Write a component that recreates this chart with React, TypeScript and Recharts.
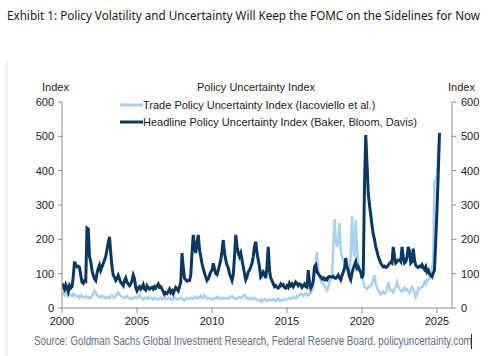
import { Line, LineChart, XAxis, YAxis } from "recharts";

const START_YEAR = 2000;
const YEAR_TICKS = [2000, 2005, 2010, 2015, 2020, 2025];
const INDEX_TICKS = [0, 100, 200, 300, 400, 500, 600];

// monthly, Jan 2000 .. Mar 2025
const HEADLINE = [
  72, 62, 55, 68, 60, 48, 65, 58, 62, 90, 135, 125, // 2000
  120, 122, 118, 95, 75, 72, 80, 78, 233, 230, 150, 135, // 2001
  110, 95, 85, 80, 100, 115, 125, 110, 120, 130, 140, 150, // 2002
  170, 190, 207, 160, 120, 95, 90, 80, 85, 95, 85, 75, // 2003
  70, 65, 80, 88, 75, 70, 65, 70, 80, 96, 85, 60, // 2004
  50, 58, 62, 55, 60, 68, 55, 52, 65, 60, 55, 58, // 2005
  60, 55, 62, 58, 65, 70, 60, 62, 55, 48, 40, 45, // 2006
  42, 48, 55, 45, 50, 42, 52, 60, 55, 50, 62, 75, // 2007
  160, 120, 87, 82, 78, 80, 80, 95, 160, 213, 180, 160, // 2008
  190, 213, 170, 150, 130, 115, 102, 90, 80, 85, 95, 105, // 2009
  110, 130, 115, 100, 97, 110, 125, 140, 165, 198, 160, 140, // 2010
  125, 117, 100, 90, 80, 95, 150, 213, 180, 160, 150, 160, // 2011
  140, 120, 100, 82, 90, 105, 110, 120, 130, 150, 180, 193, // 2012
  160, 140, 120, 90, 95, 105, 100, 87, 120, 178, 110, 87, // 2013
  80, 70, 62, 65, 60, 58, 62, 70, 65, 68, 60, 58, // 2014
  65, 60, 72, 65, 70, 62, 68, 76, 72, 65, 70, 68, // 2015
  60, 65, 70, 62, 60, 110, 75, 58, 65, 80, 120, 125, // 2016
  105, 100, 95, 90, 85, 88, 82, 85, 82, 90, 92, 90, // 2017
  90, 92, 88, 86, 90, 96, 88, 82, 95, 105, 116, 146, // 2018
  120, 110, 90, 82, 102, 115, 125, 135, 116, 120, 110, 105, // 2019
  87, 100, 360, 504, 420, 335, 300, 270, 240, 215, 200, 178, // 2020
  165, 150, 140, 131, 125, 120, 122, 118, 120, 125, 130, 134, // 2021
  131, 178, 150, 131, 135, 140, 140, 135, 178, 150, 131, 135, // 2022
  149, 178, 165, 131, 135, 173, 140, 125, 120, 118, 122, 120, // 2023
  126, 118, 112, 120, 105, 110, 100, 95, 91, 102, 110, 198, // 2024
  286, 393, 510, // 2025
];

const TRADE = [
  40, 45, 38, 48, 42, 35, 40, 38, 35, 42, 38, 35, // 2000
  33, 35, 30, 38, 35, 30, 32, 35, 30, 32, 28, 30, // 2001
  35, 42, 50, 45, 38, 35, 32, 30, 35, 33, 30, 28, // 2002
  32, 30, 28, 35, 38, 33, 30, 35, 40, 45, 38, 35, // 2003
  33, 30, 28, 32, 35, 30, 28, 26, 30, 28, 32, 30, // 2004
  28, 33, 38, 30, 28, 25, 30, 28, 26, 32, 28, 30, // 2005
  28, 25, 30, 28, 26, 24, 28, 30, 25, 27, 30, 28, // 2006
  26, 28, 30, 25, 24, 27, 30, 28, 26, 24, 28, 30, // 2007
  28, 25, 22, 26, 30, 28, 25, 30, 28, 26, 33, 30, // 2008
  28, 32, 30, 35, 28, 30, 38, 32, 28, 30, 27, 26, // 2009
  25, 28, 30, 27, 32, 28, 30, 28, 26, 30, 29, 28, // 2010
  27, 30, 28, 32, 35, 30, 28, 26, 30, 28, 32, 30, // 2011
  30, 35, 38, 32, 28, 26, 30, 27, 25, 28, 30, 26, // 2012
  24, 22, 20, 25, 18, 22, 26, 24, 20, 22, 25, 23, // 2013
  22, 26, 24, 20, 25, 28, 23, 20, 24, 22, 26, 24, // 2014
  25, 28, 30, 26, 28, 32, 30, 28, 35, 33, 38, 42, // 2015
  40, 35, 38, 42, 36, 40, 38, 44, 50, 61, 100, 140, // 2016
  163, 111, 85, 80, 73, 70, 65, 60, 52, 60, 75, 90, // 2017
  90, 178, 259, 200, 178, 198, 248, 169, 149, 140, 135, 130, // 2018
  110, 102, 110, 149, 268, 178, 150, 257, 178, 130, 115, 102, // 2019
  102, 75, 61, 58, 55, 60, 62, 65, 70, 85, 96, 70, // 2020
  60, 52, 45, 40, 44, 48, 42, 45, 55, 76, 60, 50, // 2021
  50, 45, 55, 60, 76, 65, 55, 50, 48, 55, 60, 52, // 2022
  55, 50, 44, 52, 61, 55, 45, 32, 40, 58, 55, 60, // 2023
  61, 65, 76, 70, 82, 80, 91, 100, 116, 140, 370, 375, // 2024
  380, 470, 465, // 2025
];

const TITLE =
  "Exhibit 1: Policy Volatility and Uncertainty Will Keep the FOMC on the Sidelines for Now";
const SOURCE =
  "Source: Goldman Sachs Global Investment Research, Federal Reserve Board, policyuncertainty.com";

const DARK = "#0b3862";
const LIGHT = "#a7d1ef";
const FONT = "'Liberation Sans', Arial, sans-serif";

const data = HEADLINE.map((h, i) => ({
  t: START_YEAR + i / 12,
  headline: h,
  trade: TRADE[i],
}));

const tickStyle = { fontSize: 11, fill: "#222", fontFamily: FONT };

export default function App() {
  return (
    <div style={{ position: "relative", width: 492, height: 356, background: "#fff" }}>
      <style>{"body{margin:0}"}</style>
      <LineChart
        width={492}
        height={356}
        data={data}
        margin={{ top: 102, right: 10, bottom: 28, left: 32 }}
      >
        <XAxis
          dataKey="t"
          type="number"
          domain={[2000, 2026]}
          ticks={YEAR_TICKS}
          allowDataOverflow
          height={20}
          tickSize={5}
          tickMargin={4}
          stroke="#8c8c8c"
          tick={tickStyle}
        />
        <YAxis
          yAxisId="left"
          domain={[0, 600]}
          ticks={INDEX_TICKS}
          width={30}
          tickSize={4}
          tickMargin={4}
          stroke="#8c8c8c"
          tick={tickStyle}
        />
        <YAxis
          yAxisId="right"
          orientation="right"
          domain={[0, 600]}
          ticks={INDEX_TICKS}
          width={30}
          tickSize={4}
          tickMargin={5}
          stroke="#8c8c8c"
          tick={tickStyle}
        />
        <Line
          yAxisId="left"
          dataKey="trade"
          stroke={LIGHT}
          strokeWidth={2.5}
          dot={false}
          isAnimationActive={false}
        />
        {/* same 0-600 scale as the left axis */}
        <Line
          yAxisId="right"
          dataKey="headline"
          stroke={DARK}
          strokeWidth={3}
          dot={false}
          isAnimationActive={false}
        />
      </LineChart>

      <svg
        width={492}
        height={356}
        style={{ position: "absolute", left: 0, top: 0, pointerEvents: "none" }}
      >
        <rect x={5} y={61} width={3} height={295} fill="#eef2f7" />
        <text
          x={7}
          y={20}
          fontSize={12}
          fill="#1a1a1a"
          fontFamily="'Noto Sans', sans-serif"
          textLength={473}
          lengthAdjust="spacingAndGlyphs"
        >
          {TITLE}
        </text>

        <g fontFamily={FONT} fontSize={11} fill="#222">
          <text x={42} y={91}>Index</text>
          <text x={448} y={91}>Index</text>
          <text x={256} y={91} textAnchor="middle">Policy Uncertainty Index</text>

          <line x1={120} x2={143} y1={105} y2={105} stroke={LIGHT} strokeWidth={3} />
          <text x={143} y={109}>Trade Policy Uncertainty Index (Iacoviello et al.)</text>
          <line x1={120} x2={143} y1={122} y2={122} stroke={DARK} strokeWidth={3} />
          <text x={143} y={126}>Headline Policy Uncertainty Index (Baker, Bloom, Davis)</text>
        </g>
        <line x1={471.5} x2={471.5} y1={334} y2={349} stroke="#333" strokeWidth={1} />
      </svg>

      <div
        style={{
          position: "absolute",
          left: 34,
          top: 333,
          whiteSpace: "nowrap",
          fontFamily: FONT,
          fontSize: 12.5,
          lineHeight: "16px",
          color: "#5d6e83",
          transform: "scaleX(0.783)",
          transformOrigin: "0 0",
        }}
      >
        {SOURCE}
      </div>
    </div>
  );
}
